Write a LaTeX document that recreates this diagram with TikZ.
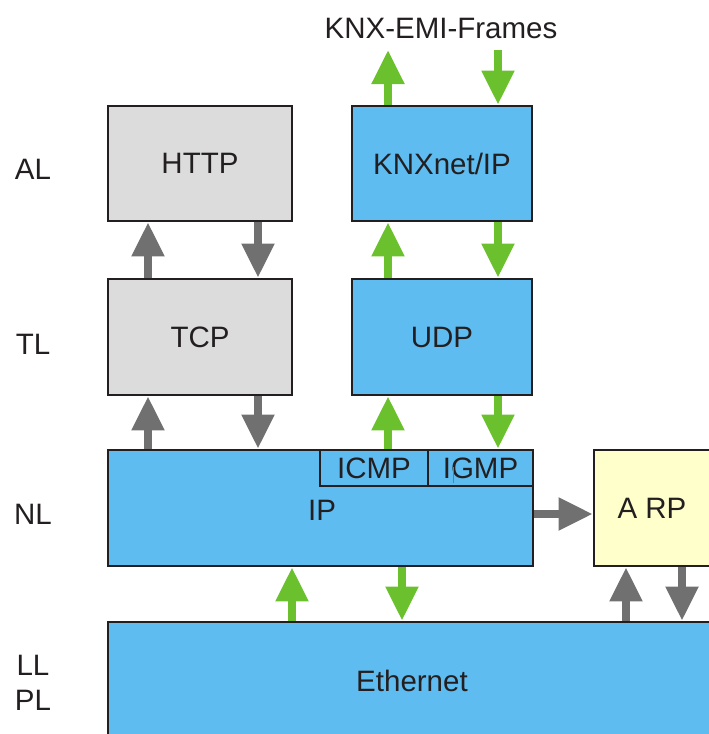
\documentclass[tikz,border=0pt]{standalone}
\usepackage{fontspec}
\setmainfont{Liberation Sans}
\usetikzlibrary{arrows.meta}

\definecolor{boxblue}{HTML}{5EBCF0}
\definecolor{boxgray}{HTML}{DCDCDC}
\definecolor{boxyellow}{HTML}{FFFFCC}
\definecolor{arrgreen}{HTML}{6BC02E}
\definecolor{arrgray}{HTML}{707070}
\definecolor{inkdark}{HTML}{231F20}

\tikzset{
  layerbox/.style={draw=inkdark, line width=2.6pt, inner sep=0pt, text=inkdark,
    font=\fontsize{29.5}{31}\selectfont},
  bluebox/.style={layerbox, fill=boxblue},
  graybox/.style={layerbox, fill=boxgray},
  yellowbox/.style={layerbox, fill=boxyellow},
  lbl/.style={text=inkdark, font=\fontsize{29.5}{31}\selectfont, inner sep=0pt},
  fatarrow/.style={line width=8pt, -{Triangle[width=31pt,length=34pt]}},
  grayarrow/.style={fatarrow, draw=arrgray, arrgray},
  greenarrow/.style={fatarrow, draw=arrgreen, arrgreen},
}

\begin{document}
\begin{tikzpicture}[x=1pt, y=-1pt]
  \useasboundingbox (0,0) rectangle (709,734);

  % layer names
  \node[lbl] (al) at (33,169) {AL};
  \node[lbl] (tl) at (33,344) {TL};
  \node[lbl] (nl) at (33,514) {NL};
  \node[lbl] (ll) at (33,665) {LL};
  \node[lbl] (pl) at (33,700) {PL};

  % protocol boxes
  \node[graybox, minimum width=184pt, minimum height=115pt] (http) at (200,163.5) {HTTP};
  \node[graybox, minimum width=184pt, minimum height=116pt] (tcp) at (200,337) {TCP};
  \node[bluebox, minimum width=180pt, minimum height=115pt] (knx) at (442,163.5) {KNXnet/IP};
  \node[bluebox, minimum width=180pt, minimum height=116pt] (udp) at (442,337) {UDP};
  \node[bluebox, minimum width=425pt, minimum height=116pt] (ip) at (320.5,508) {};
  \node[lbl] (iptext) at (322,510) {IP};
  \node[bluebox, minimum width=108pt, minimum height=36pt] (icmp) at (374,468) {ICMP};
  \node[bluebox, minimum width=105pt, minimum height=36pt] (igmp) at (480.5,468) {IGMP};
  \node[yellowbox, minimum width=116pt, minimum height=116pt] (arp) at (652,508) {A RP};
  \node[bluebox, minimum width=608pt, minimum height=118pt] (eth) at (412,681) {Ethernet};

  % text cursor mark inside IGMP
  \draw[draw={rgb,255:red,214;green,90;blue,40}, line width=0.9pt] (453,467) -- (453,483);

  % column positions of the arrows
  \coordinate (colA) at (148,0);
  \coordinate (colB) at (258,0);
  \coordinate (colC) at (388,0);
  \coordinate (colD) at (498,0);
  \coordinate (colE) at (292,0);
  \coordinate (colF) at (402,0);
  \coordinate (colG) at (626,0);
  \coordinate (colH) at (682,0);
  \coordinate (rowArp) at (0,514);

  % frames handed to and from KNXnet/IP
  \node[lbl] (emi) at (441,28) {KNX-EMI-Frames};
  \coordinate (emiup) at (388,50);
  \coordinate (emidown) at (498,50);
  \draw[greenarrow] (knx.north -| emiup) -- (emiup);
  \draw[greenarrow] (emidown) -- (knx.north -| emidown);

  % HTTP / TCP / IP
  \draw[grayarrow] (tcp.north -| colA) -- (http.south -| colA);
  \draw[grayarrow] (http.south -| colB) -- (tcp.north -| colB);
  \draw[grayarrow] (ip.north -| colA) -- (tcp.south -| colA);
  \draw[grayarrow] (tcp.south -| colB) -- (ip.north -| colB);

  % KNXnet/IP / UDP / IP
  \draw[greenarrow] (udp.north -| colC) -- (knx.south -| colC);
  \draw[greenarrow] (knx.south -| colD) -- (udp.north -| colD);
  \draw[greenarrow] (ip.north -| colC) -- (udp.south -| colC);
  \draw[greenarrow] (udp.south -| colD) -- (ip.north -| colD);

  % IP / Ethernet
  \draw[greenarrow] (eth.north -| colE) -- (ip.south -| colE);
  \draw[greenarrow] (ip.south -| colF) -- (eth.north -| colF);

  % IP to ARP
  \draw[grayarrow] (ip.east |- rowArp) -- (arp.west |- rowArp);

  % ARP / Ethernet
  \draw[grayarrow] (eth.north -| colG) -- (arp.south -| colG);
  \draw[grayarrow] (arp.south -| colH) -- (eth.north -| colH);
\end{tikzpicture}
\end{document}
